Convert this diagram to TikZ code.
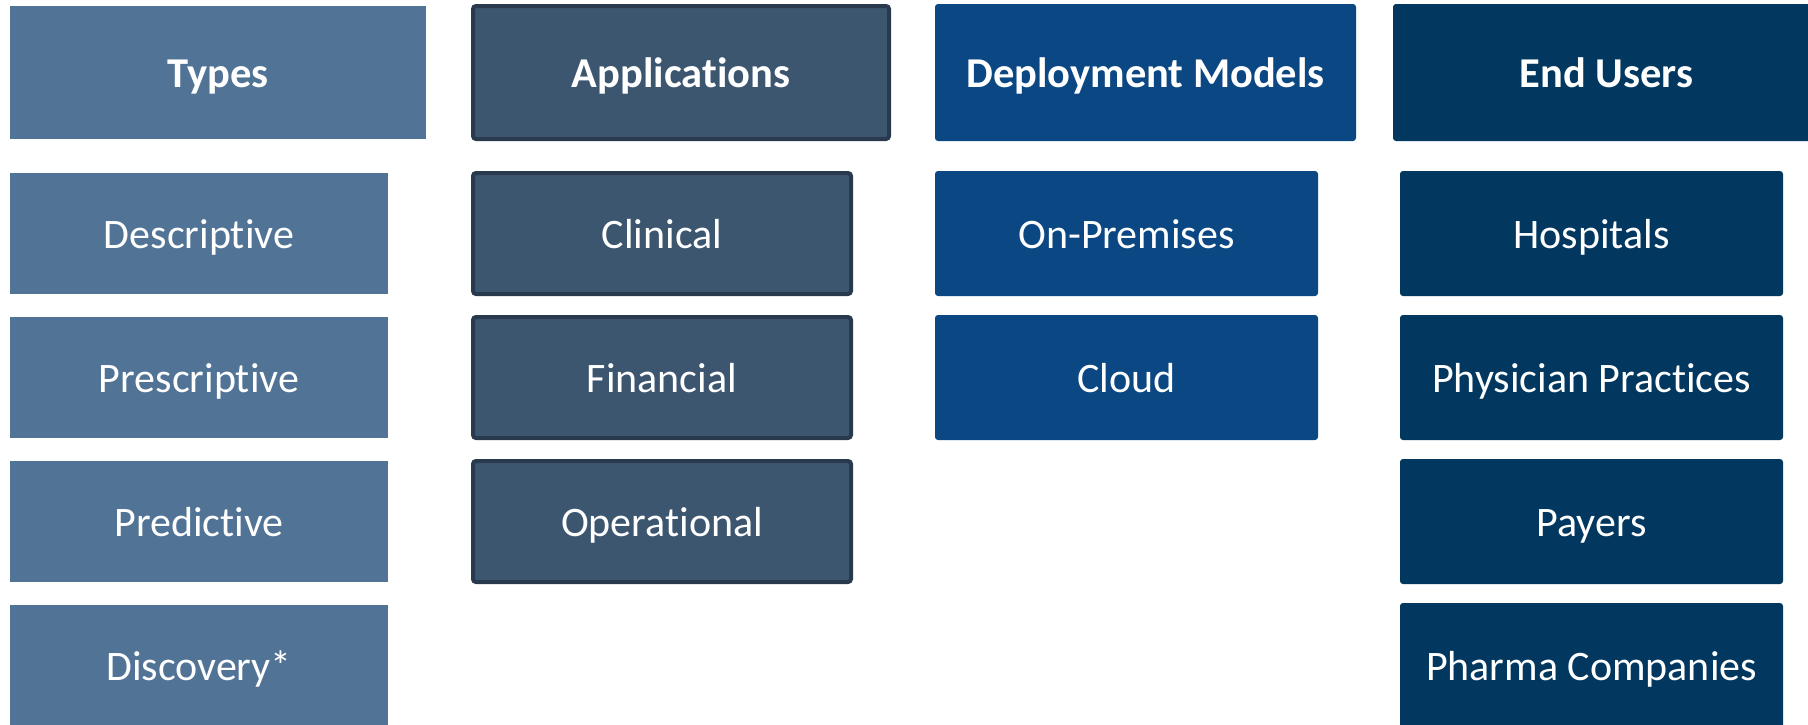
\documentclass[tikz,border=0pt]{standalone}
\usepackage{fontspec}
\setmainfont{Carlito}[Ligatures={NoCommon,NoRare,NoContextual,NoDiscretionary}]
\definecolor{typec}{HTML}{517396}
\definecolor{appc}{HTML}{3D5670}
\definecolor{appb}{HTML}{2A3A4E}
\definecolor{depc}{HTML}{0B4782}
\definecolor{endc}{HTML}{02385F}
\tikzset{
  box/.style={inner sep=0pt, outer sep=0pt, text=white, font=\fontsize{42}{48}\selectfont, align=center, text depth=0pt, text height=29.5pt},
  head/.style={box, font=\fontsize{42.5}{48}\selectfont\bfseries},
  typebox/.style={fill=typec, draw=none},
  appbox/.style={fill=appc, draw=appb, line width=4pt, rounded corners=3pt},
  depbox/.style={fill=depc, draw=none, rounded corners=3pt},
  endbox/.style={fill=endc, draw=none, rounded corners=3pt},
}
\begin{document}
\begin{tikzpicture}[x=1pt,y=-1pt]
\useasboundingbox (0,0) rectangle (1808,724);
% Types
\node[head,typebox,minimum width=416pt,minimum height=133pt] (types) at (218,72.5) {Types};
\node[box,typebox,minimum width=378pt,minimum height=121pt] (t1) at (199,233.5) {Descriptive};
\node[box,typebox,minimum width=378pt,minimum height=121pt] (t2) at (199,377.5) {Prescriptive};
\node[box,typebox,minimum width=378pt,minimum height=121pt] (t3) at (199,521.5) {Predictive};
\node[box,typebox,minimum width=378pt,minimum height=121pt] (t4) at (199,665.5) {Discovery*};
% Applications
\node[head,appbox,minimum width=416pt,minimum height=133pt] (apps) at (681,72.5) {Applications};
\node[box,appbox,minimum width=378pt,minimum height=121pt] (a1) at (662,233.5) {Clinical};
\node[box,appbox,minimum width=378pt,minimum height=121pt] (a2) at (662,377.5) {Financial};
\node[box,appbox,minimum width=378pt,minimum height=121pt] (a3) at (662,521.5) {Operational};
% Deployment
\node[head,depbox,minimum width=421pt,minimum height=137pt] (deps) at (1145.5,72.5) {Deployment Models};
\node[box,depbox,minimum width=383pt,minimum height=125pt] (d1) at (1126.5,233.5) {On-Premises};
\node[box,depbox,minimum width=383pt,minimum height=125pt] (d2) at (1126.5,377.5) {Cloud};
% End users
\node[head,endbox,minimum width=427pt,minimum height=137pt] (users) at (1606.5,72.5) {End Users};
\node[box,endbox,minimum width=383pt,minimum height=125pt] (u1) at (1591.5,233.5) {Hospitals};
\node[box,endbox,minimum width=383pt,minimum height=125pt] (u2) at (1591.5,377.5) {Physician Practices};
\node[box,endbox,minimum width=383pt,minimum height=125pt] (u3) at (1591.5,521.5) {Payers};
\node[box,endbox,minimum width=383pt,minimum height=125pt] (u4) at (1591.5,665.5) {Pharma Companies};
\end{tikzpicture}
\end{document}
